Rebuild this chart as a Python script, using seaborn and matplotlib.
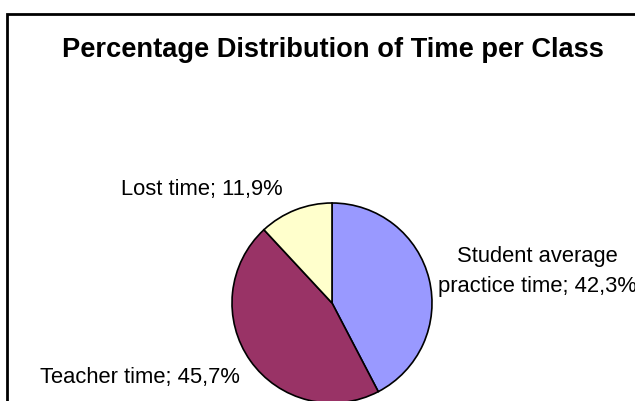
"""Pie chart of time per class, recreated with seaborn/matplotlib."""

import matplotlib.pyplot as plt
from matplotlib.patches import Rectangle
import seaborn as sns


CATEGORIES = ["Student average\npractice time", "Teacher time", "Lost time"]
SHARES = [42.3, 45.7, 11.9]
COLORS = ["#9999FF", "#993366", "#FFFFCC"]

# label anchors in pixel space (x, baseline y from top, horizontal alignment)
LABEL_POS = [(537, 292, "center"), (40, 383, "left"), (121, 195, "left")]

sns.set_theme(style="white")
plt.rcParams["font.family"] = ["Liberation Sans", "DejaVu Sans"]

W, H = 635, 401
fig = plt.figure(figsize=(W / 100, H / 100), dpi=100)
ax = fig.add_axes([0, 0, 1, 1])
ax.set_xlim(0, W)
ax.set_ylim(0, H)
ax.set_aspect("equal")
ax.axis("off")

ax.pie(
	SHARES,
	colors=COLORS,
	startangle=90,
	counterclock=False,
	center=(332, H - 303),
	radius=100,
	wedgeprops={"edgecolor": "black", "linewidth": 1.2},
	frame=False,
)
ax.set_xlim(0, W)
ax.set_ylim(0, H)

for name, val, (x, y, ha) in zip(CATEGORIES, SHARES, LABEL_POS):
	txt = f"{name}; {val:.1f}%".replace(".", ",")
	lines = txt.split("\n")
	# stack lines upward from the last baseline
	for i, line in enumerate(reversed(lines)):
		ax.text(x, H - y + i * 30, line, ha=ha, va="baseline", fontsize=15.8, color="black")

ax.text(62, H - 57, "Percentage Distribution of Time per Class",
	ha="left", va="baseline", fontsize=19.6, fontweight="bold", color="black")

# chart border, clipped by the image on the right and bottom
fig.patches.append(Rectangle((7 / W, -0.2), 2, (H - 14) / H + 0.2,
	transform=fig.transFigure, fill=False, edgecolor="black", linewidth=2))

fig.savefig("out.png", dpi=100)
